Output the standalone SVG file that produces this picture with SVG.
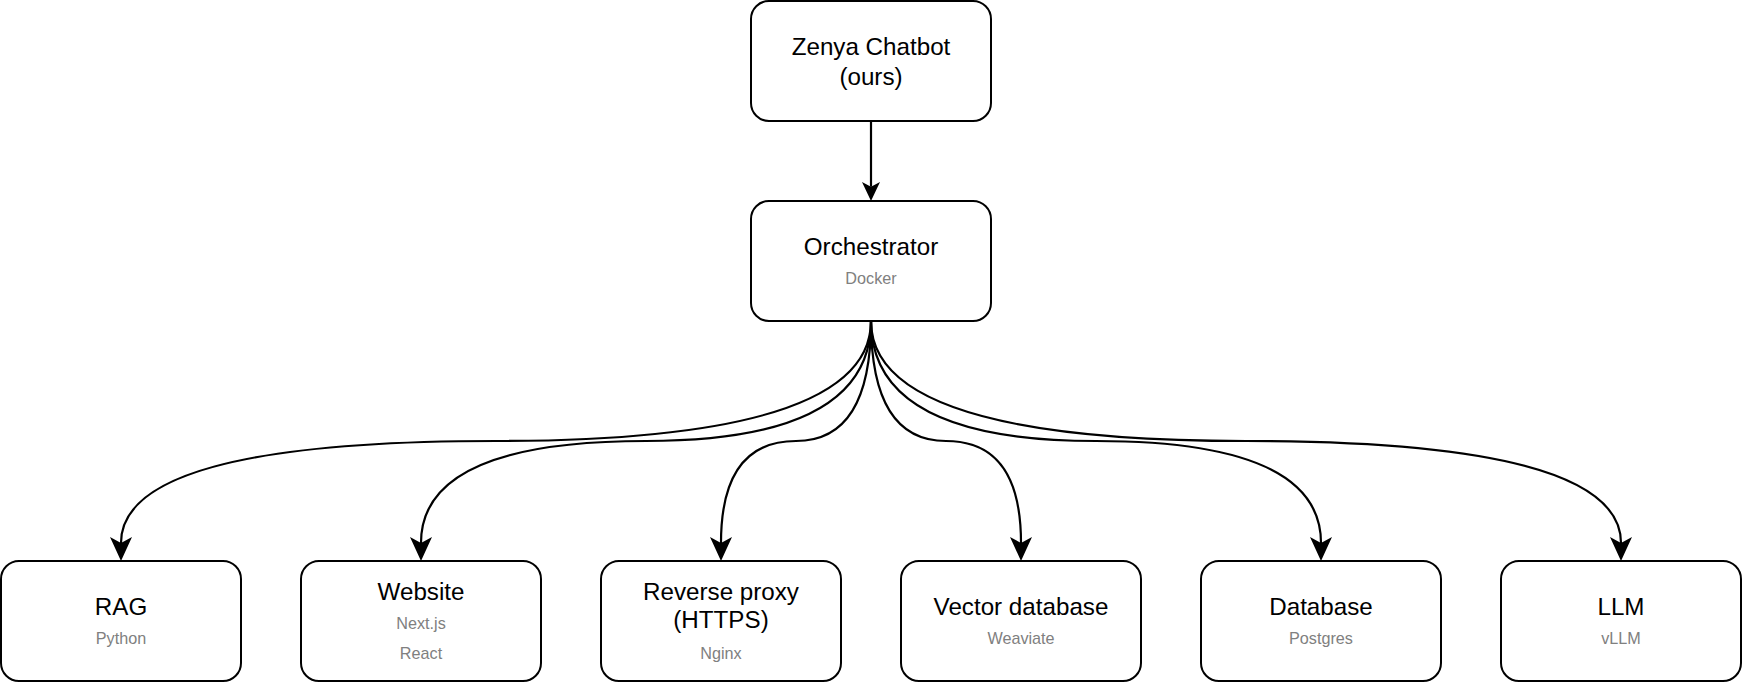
<svg xmlns="http://www.w3.org/2000/svg" width="1742" height="684" viewBox="0 0 1742 684">
<style>
.box{fill:#ffffff;stroke:#000000;stroke-width:2}
.t{font-family:"Liberation Sans",Arial,sans-serif;font-size:24.2px;fill:#000000;text-anchor:middle}
.s{font-family:"Liberation Sans",Arial,sans-serif;font-size:16.2px;fill:#808080;text-anchor:middle}
.e{fill:none;stroke:#000000;stroke-width:2.2}
</style>
<defs>
<marker id="aS" markerUnits="userSpaceOnUse" viewBox="0 0 19 18" markerWidth="19" markerHeight="18" refX="4.75" refY="9" orient="auto">
<path d="M0,0 L19,9 L0,18 L4.75,9 Z" fill="#000000"/>
</marker>
<marker id="aL" markerUnits="userSpaceOnUse" viewBox="0 0 24 22" markerWidth="24" markerHeight="22" refX="6" refY="11" orient="auto">
<path d="M0,0 L24,11 L0,22 L6,11 Z" fill="#000000"/>
</marker>
</defs>
<rect width="1742" height="684" fill="#ffffff"/>
<g id="connectors">
<path class="e" d="M871,121 L871,186.75" marker-end="url(#aS)"/>
<path class="e" d="M871,321 Q871,441 496,441 Q121,441 121,543" marker-end="url(#aL)"/>
<path class="e" d="M871,321 Q871,441 646,441 Q421,441 421,543" marker-end="url(#aL)"/>
<path class="e" d="M871,321 Q871,441 796,441 Q721,441 721,543" marker-end="url(#aL)"/>
<path class="e" d="M871,321 Q871,441 946,441 Q1021,441 1021,543" marker-end="url(#aL)"/>
<path class="e" d="M871,321 Q871,441 1096,441 Q1321,441 1321,543" marker-end="url(#aL)"/>
<path class="e" d="M871,321 Q871,441 1246,441 Q1621,441 1621,543" marker-end="url(#aL)"/>
</g>
<g id="zenya">
<rect class="box" x="751" y="1" width="240" height="120" rx="18" ry="18"/>
<text class="t" x="871" y="55">Zenya Chatbot</text>
<text class="t" x="871" y="85">(ours)</text>
</g>
<g id="orchestrator">
<rect class="box" x="751" y="201" width="240" height="120" rx="18" ry="18"/>
<text class="t" x="871" y="255">Orchestrator</text>
<text class="s" x="871" y="284">Docker</text>
</g>
<g id="rag">
<rect class="box" x="1" y="561" width="240" height="120" rx="18" ry="18"/>
<text class="t" x="121" y="615">RAG</text>
<text class="s" x="121" y="644">Python</text>
</g>
<g id="website">
<rect class="box" x="301" y="561" width="240" height="120" rx="18" ry="18"/>
<text class="t" x="421" y="600">Website</text>
<text class="s" x="421" y="629">Next.js</text>
<text class="s" x="421" y="659">React</text>
</g>
<g id="proxy">
<rect class="box" x="601" y="561" width="240" height="120" rx="18" ry="18"/>
<text class="t" x="721" y="600">Reverse proxy</text>
<text class="t" x="721" y="628">(HTTPS)</text>
<text class="s" x="721" y="659">Nginx</text>
</g>
<g id="vectordb">
<rect class="box" x="901" y="561" width="240" height="120" rx="18" ry="18"/>
<text class="t" x="1021" y="615">Vector database</text>
<text class="s" x="1021" y="644">Weaviate</text>
</g>
<g id="database">
<rect class="box" x="1201" y="561" width="240" height="120" rx="18" ry="18"/>
<text class="t" x="1321" y="615">Database</text>
<text class="s" x="1321" y="644">Postgres</text>
</g>
<g id="llm">
<rect class="box" x="1501" y="561" width="240" height="120" rx="18" ry="18"/>
<text class="t" x="1621" y="615">LLM</text>
<text class="s" x="1621" y="644">vLLM</text>
</g>
</svg>
